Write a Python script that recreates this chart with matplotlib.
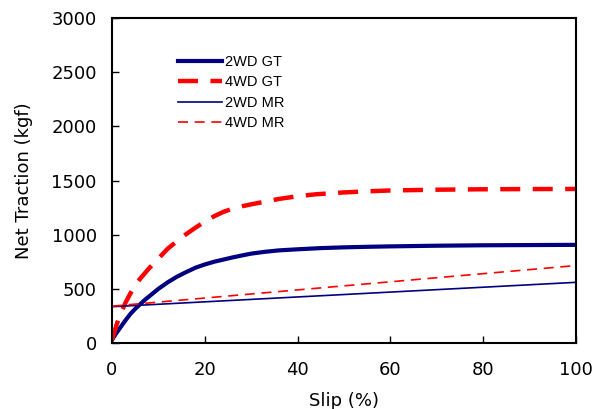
import matplotlib
matplotlib.use("Agg")
import matplotlib.pyplot as plt
from matplotlib import font_manager

plt.rcParams['font.family'] = ['DejaVu Sans']

# Data
slip_2wd_gt = [0, 1, 2, 3, 4, 5, 6, 7, 8, 9, 10, 12, 14, 16, 18, 20, 22, 24, 26, 28, 30,
               33, 36, 40, 45, 50, 55, 60, 70, 80, 90, 100]
trac_2wd_gt = [30, 95, 155, 215, 270, 315, 355, 395, 430, 465, 500, 560, 612, 655, 695, 725,
               750, 770, 790, 808, 825, 842, 855, 865, 876, 883, 888, 892, 898, 902, 904, 906]

slip_4wd_gt = [0, 0.5, 1, 1.5, 2, 3, 4, 5, 6, 7, 8, 10, 12, 14, 16, 18, 20, 22, 24, 26, 28,
               30, 33, 36, 40, 44, 50, 55, 60, 70, 80, 90, 100]
trac_4wd_gt = [30, 100, 170, 230, 285, 380, 460, 530, 590, 640, 690, 780, 870, 940, 1005,
               1065, 1120, 1170, 1210, 1240, 1262, 1280, 1305, 1330, 1355, 1373, 1390, 1400,
               1408, 1415, 1419, 1421, 1422]

slip_2wd_mr = [0, 100]
trac_2wd_mr = [335, 560]

slip_4wd_mr = [0, 100]
trac_4wd_mr = [340, 715]

series_labels = ['2WD GT', '4WD GT', '2WD MR', '4WD MR']
xticks = [0, 20, 40, 60, 80, 100]
yticks = [0, 500, 1000, 1500, 2000, 2500, 3000]

legend_family = 'Liberation Sans'
try:
    font_manager.findfont(font_manager.FontProperties(family='Liberation Sans Narrow'),
                          fallback_to_default=False)
    legend_family = 'Liberation Sans Narrow'
except Exception:
    pass

fig = plt.figure(figsize=(6.03, 4.09), dpi=100)
ax = fig.add_axes([112/603, 1-343/409, 464/603, 325/409])

navy = '#000080'
red = '#ff0000'
ax.plot(slip_2wd_gt, trac_2wd_gt, color=navy, lw=3.0, label=series_labels[0],
        solid_joinstyle='round')
ax.plot(slip_4wd_gt, trac_4wd_gt, color=red, lw=3.2, dashes=(4.5, 2.8),
        label=series_labels[1], dash_joinstyle='round')
ax.plot(slip_2wd_mr, trac_2wd_mr, color=navy, lw=1.2, label=series_labels[2])
ax.plot(slip_4wd_mr, trac_4wd_mr, color=red, lw=1.2, dashes=(6, 4), label=series_labels[3])

ax.set_xlim(0, 100)
ax.set_ylim(0, 3000)
ax.set_xticks(xticks)
ax.set_yticks(yticks)
ax.tick_params(direction='in', length=5, width=1, labelsize=13)
ax.tick_params(axis='x', pad=13)
ax.tick_params(axis='y', pad=11)
for s in ax.spines.values():
    s.set_linewidth(1.5)

ax.set_xlabel('Slip (%)', fontsize=13, labelpad=9)
ax.set_ylabel('Net Traction (kgf)', fontsize=13, labelpad=13)

leg = ax.legend(loc='upper left', bbox_to_anchor=(0.142, 0.885), frameon=False,
                prop={'family': legend_family, 'size': 10.5},
                handlelength=3.0, handletextpad=0.2,
                labelspacing=0.42, borderpad=0, borderaxespad=0)

fig.savefig('out.png', dpi=100)
